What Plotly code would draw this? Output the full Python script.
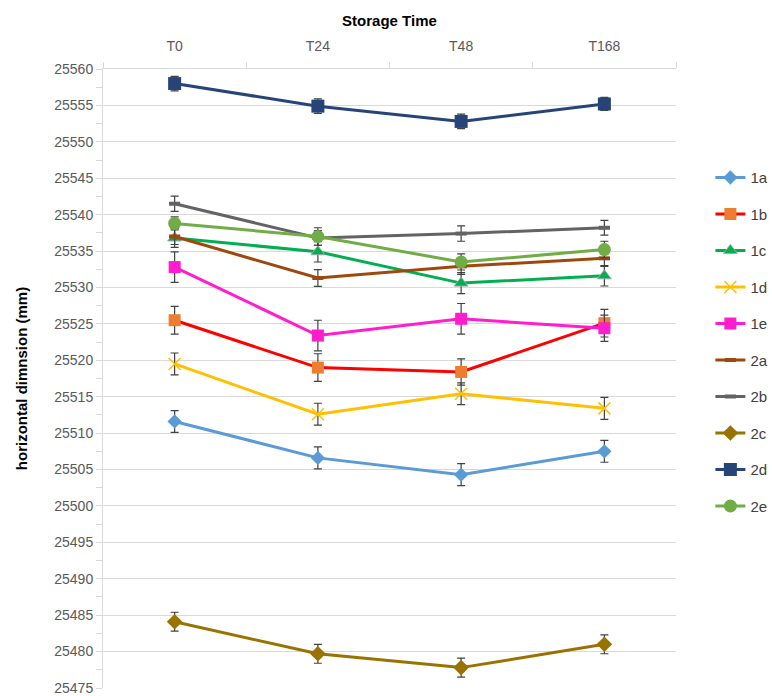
import plotly.graph_objects as go

categories = ["T0", "T24", "T48", "T168"]

series_names = ["1a", "1b", "1c", "1d", "1e", "2a", "2b", "2c", "2d", "2e"]

v_1a = [25511.6, 25506.6, 25504.3, 25507.5]
v_1b = [25525.5, 25519.0, 25518.4, 25525.1]
v_1c = [25536.8, 25534.9, 25530.6, 25531.6]
v_1d = [25519.5, 25512.6, 25515.4, 25513.4]
v_1e = [25532.8, 25523.4, 25525.7, 25524.4]
v_2a = [25537.0, 25531.3, 25532.9, 25534.0]
v_2b = [25541.5, 25536.8, 25537.4, 25538.2]
v_2c = [25484.1, 25479.7, 25477.8, 25481.0]
v_2d = [25558.0, 25554.9, 25552.8, 25555.2]
v_2e = [25538.8, 25537.0, 25533.5, 25535.2]

e_1a = [1.5, 1.5, 1.5, 1.5]
e_1b = [1.9, 1.9, 1.8, 1.9]
e_1c = [1.3, 1.4, 1.45, 1.4]
e_1d = [1.5, 1.5, 1.5, 1.5]
e_1e = [2.1, 2.1, 2.1, 1.8]
e_2a = [1.1, 1.15, 1.1, 1.1]
e_2b = [1.05, 1.0, 1.05, 1.0]
e_2c = [1.3, 1.3, 1.3, 1.3]
e_2d = [1.0, 1.0, 1.0, 0.9]
e_2e = [0.9, 1.2, 1.1, 1.15]

values = [v_1a, v_1b, v_1c, v_1d, v_1e, v_2a, v_2b, v_2c, v_2d, v_2e]
errors = [e_1a, e_1b, e_1c, e_1d, e_1e, e_2a, e_2b, e_2c, e_2d, e_2e]

styles = [
    dict(line="#5B9BD5", mcolor="#5B9BD5", symbol="diamond", size=11, mline="#5B9BD5", mlw=0),
    dict(line="#FF0000", mcolor="#ED7D31", symbol="square", size=12, mline="#ED7D31", mlw=0),
    dict(line="#00B050", mcolor="#00B050", symbol="triangle-up", size=12, mline="#A5A5A5", mlw=1),
    dict(line="#FFC000", mcolor="#FFC000", symbol="x-thin", size=12, mline="#FFC000", mlw=1.5),
    dict(line="#FF1DCE", mcolor="#FF1DCE", symbol="square", size=12, mline="#FF1DCE", mlw=0),
    dict(line="#9E480E", mcolor="#9E480E", symbol="line-ew", size=8, mline="#9E480E", mlw=4),
    dict(line="#636363", mcolor="#636363", symbol="line-ew", size=8, mline="#636363", mlw=4),
    dict(line="#997300", mcolor="#997300", symbol="diamond", size=12, mline="#997300", mlw=0),
    dict(line="#264478", mcolor="#264478", symbol="square", size=13, mline="#264478", mlw=0),
    dict(line="#70AD47", mcolor="#70AD47", symbol="circle", size=13, mline="#70AD47", mlw=0),
]

fig = go.Figure()
for i, (name, vals, errs, st) in enumerate(zip(series_names, values, errors, styles)):
    fig.add_trace(go.Scatter(
        x=categories, y=vals, name=name, mode="lines+markers",
        legendgroup=name,
        line=dict(color=st["line"], width=3),
        marker=dict(symbol=st["symbol"], size=st["size"], color=st["mcolor"],
                    line=dict(color=st["mline"], width=st["mlw"])),
        error_y=dict(type="data", array=errs, visible=True, color="#404040",
                     thickness=1.2, width=4),
    ))

fig.update_layout(
    width=772, height=696,
    paper_bgcolor="white", plot_bgcolor="white",
    margin=dict(l=103, r=96, t=69, b=8, autoexpand=False),
    font=dict(family="Liberation Sans", size=13, color="#595959"),
    legend=dict(
        x=1.06, xanchor="left", y=0.851, yanchor="top",
        font=dict(size=15, color="#404040"),
        tracegroupgap=14, traceorder="grouped",
        bgcolor="rgba(0,0,0,0)",
    ),
    xaxis=dict(
        type="category", side="top", range=[-0.5, 3.5], automargin=False,
        title=dict(text="<b>Storage Time</b>", font=dict(size=15, color="#000000"), standoff=8),
        showgrid=False, showline=True, linecolor="#D9D9D9", linewidth=1,
        ticks="outside", tickson="boundaries", ticklen=6, tickcolor="#D9D9D9",
        ticklabelstandoff=11,
        tickfont=dict(size=14, color="#595959"),
        zeroline=False,
    ),
    yaxis=dict(
        range=[25475, 25560], dtick=5, tick0=25475, tickformat="d", automargin=False,
        ticklabeloverflow="allow",
        title=dict(text="<b>horizontal dimnsion (mm)</b>", font=dict(size=15, color="#000000"), standoff=23),
        showgrid=True, gridcolor="#D9D9D9", gridwidth=1,
        showline=True, linecolor="#D9D9D9", linewidth=1,
        ticks="outside", ticklen=6, tickcolor="#D9D9D9",
        minor=dict(dtick=2.5, ticks="outside", ticklen=6, tickcolor="#D9D9D9", showgrid=False),
        tickfont=dict(size=14, color="#595959"),
        zeroline=False,
    ),
)

fig.write_html("out.html", config={"displayModeBar": False},
               post_script="document.body.style.margin='0';")
